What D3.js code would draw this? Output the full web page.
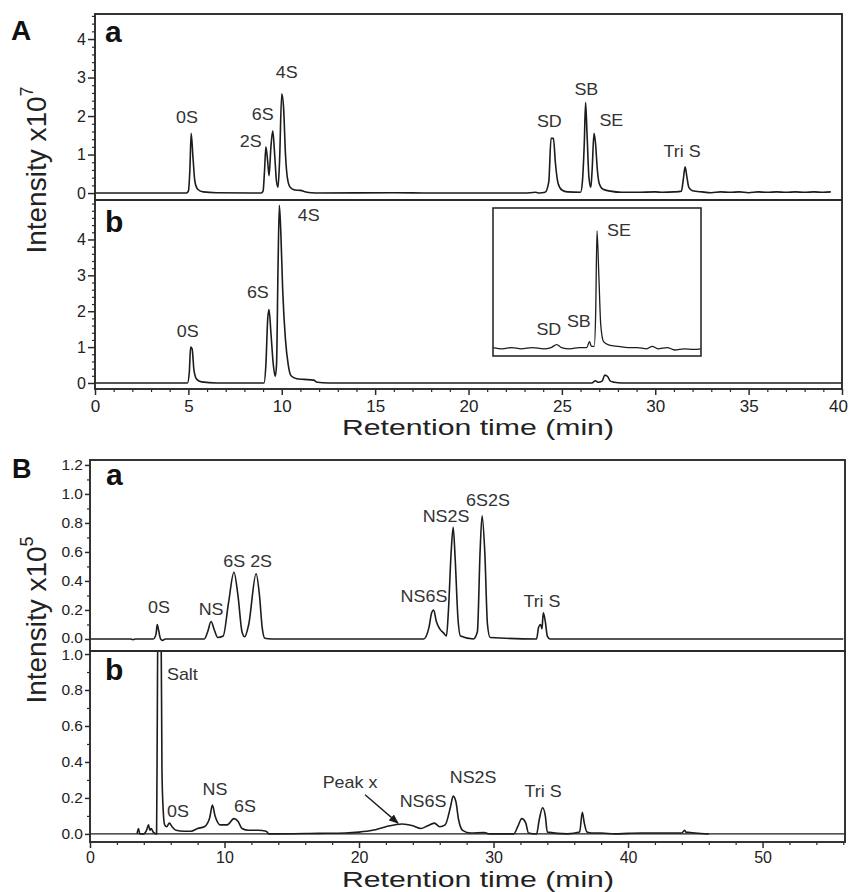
<!DOCTYPE html>
<html><head><meta charset="utf-8">
<script src="https://cdn.jsdelivr.net/npm/d3@7"></script>
<style>body{margin:0;background:#fff} text{font-family:"Liberation Sans",Arial,sans-serif}</style>
</head><body><svg id="c" width="850" height="892"></svg>
<script>
// ---------- DATA ----------
// Panel A, trace a : [retention time (min), intensity x10^7]
const traceAa = [[0,0],[4.9,0],[5.0,0.05],[5.08,0.6],[5.15,1.55],[5.25,0.9],[5.35,0.3],[5.5,0.1],[5.8,0.03],[6.5,0.01],[8.9,0],
 [9.0,0.05],[9.08,0.6],[9.15,1.2],[9.25,0.8],[9.32,0.45],[9.42,1.2],[9.52,1.62],[9.62,1.0],[9.72,0.3],[9.8,0.15],[9.88,0.8],
 [10.0,2.58],[10.1,2.2],[10.2,1.0],[10.3,0.4],[10.45,0.15],[10.7,0.08],[11.0,0.07],[11.3,0.03],[11.6,0.01],[12,0],[16,0.01],[18,0],
 [23,0],[23.6,0.02],[23.8,0],[24.1,0.02],[24.3,0.3],[24.42,1.42],[24.55,1.42],[24.65,0.8],[24.8,0.25],[25.0,0.08],[25.3,0.03],[26.0,0.02],
 [26.1,0.3],[26.2,1.3],[26.27,2.35],[26.35,1.5],[26.45,0.4],[26.55,0.15],[26.62,0.6],[26.72,1.55],[26.8,1.3],[26.9,0.6],[27.0,0.25],
 [27.2,0.1],[27.6,0.05],[28.2,0.02],[29,0.02],[30,0.03],[30.4,0.02],[31.0,0.03],[31.4,0.05],[31.5,0.35],[31.6,0.68],[31.7,0.4],
 [31.8,0.15],[32.0,0.06],[32.5,0.03],[33.0,0.01],[33.5,0.03],[34.0,0.02],[34.5,0.03],[35.0,0.01],[35.5,0.03],[36.0,0.02],[36.5,0.03],
 [37.0,0.02],[37.5,0.03],[38.0,0.02],[38.5,0.03],[39.0,0.02],[39.4,0.03]];
// Panel A, trace b
const traceAb = [[0,0],[4.95,0],[5.05,0.3],[5.12,1.0],[5.2,0.95],[5.3,0.35],[5.45,0.1],[5.7,0.03],[6.5,0],[9.05,0],[9.15,0.5],
 [9.25,1.8],[9.32,2.05],[9.42,1.4],[9.55,0.5],[9.65,0.18],[9.72,0.5],[9.8,3.2],[9.87,4.95],[9.95,4.2],[10.05,2.6],[10.2,1.2],[10.35,0.5],
 [10.5,0.2],[10.8,0.12],[11.2,0.1],[11.7,0.08],[11.9,0.02],[12.5,0],[26.6,0],[26.8,0.06],[26.95,0.02],[27.15,0.05],[27.3,0.22],
 [27.45,0.18],[27.6,0.05],[27.8,0.02],[28.2,0],[40,0]];
// Panel A, inset (relative intensity, SE = 1)
const traceInset = [[21.3,0.01],[21.8,0.0],[22.3,0.01],[22.8,0.0],[23.4,0.01],[24.0,0.0],[24.4,0.01],[24.7,0.035],[24.95,0.01],[25.4,0.0],
 [25.9,0.01],[26.3,0.01],[26.45,0.06],[26.55,0.02],[26.7,0.02],[26.78,0.3],[26.85,0.98],[26.95,0.6],[27.05,0.2],[27.2,0.06],[27.5,0.03],
 [28.0,0.02],[28.5,0.01],[29.0,0.01],[29.5,0.0],[29.8,0.02],[30.1,0.0],[30.6,0.01],[31.0,-0.01],[31.5,0.0],[32.0,-0.005],[32.4,0.0]];
// Panel B, trace a : intensity x10^5
const traceBa = [[0,0],[3.0,0],[3.2,-0.005],[3.4,0],[4.7,0],[4.9,0.03],[5.0,0.1],[5.1,0.06],[5.25,0.0],[5.4,-0.01],[5.6,0],[8.5,0],
 [8.75,0.05],[9.0,0.12],[9.25,0.06],[9.5,0.01],[9.9,0.02],[10.3,0.25],[10.7,0.46],[11.0,0.3],[11.3,0.05],[11.5,0.015],[11.8,0.1],
 [12.35,0.45],[12.6,0.3],[12.8,0.08],[13.0,0.005],[13.5,0],[24.8,0],[25.2,0.08],[25.4,0.18],[25.55,0.2],[25.75,0.12],[26.0,0.07],
 [26.3,0.04],[26.5,0.02],[26.65,0.2],[26.85,0.6],[27.0,0.77],[27.15,0.55],[27.35,0.15],[27.55,0.02],[28.5,0],[28.8,0.05],[29.0,0.6],
 [29.15,0.85],[29.35,0.6],[29.55,0.1],[29.75,0.01],[33.2,0],[33.35,0.08],[33.5,0.1],[33.6,0.07],[33.7,0.18],[33.85,0.12],[34.0,0.02],
 [34.2,0],[56,0]];
// Panel B, trace b
const traceBb = [[3.5,0.0],[3.6,0.03],[3.7,0.0],[4.0,0.0],[4.2,0.02],[4.35,0.05],[4.45,0.02],[4.55,0.03],[4.7,0.01],[4.95,0.0],[5.0,0.6],
 [5.05,1.2],[5.28,1.2],[5.35,0.35],[5.45,0.12],[5.55,0.05],[5.7,0.04],[5.9,0.06],[6.1,0.04],[6.4,0.02],[7.0,0.015],[7.5,0.015],[8.0,0.03],
 [8.5,0.04],[8.9,0.09],[9.1,0.16],[9.3,0.1],[9.7,0.05],[10.2,0.05],[10.7,0.085],[11.0,0.07],[11.3,0.03],[11.8,0.02],[12.5,0.02],
 [13.1,0.015],[13.3,0.0],[17,0.003],[19,0.005],[20,0.01],[21,0.02],[22,0.04],[23.2,0.055],[24,0.045],[24.6,0.03],[25.1,0.045],
 [25.6,0.06],[26.0,0.04],[26.4,0.05],[26.8,0.15],[27.0,0.21],[27.2,0.18],[27.4,0.08],[27.7,0.02],[28.3,0.005],[29.3,0.008],[29.7,0.0],
 [31.5,0.0],[31.8,0.04],[32.1,0.085],[32.4,0.06],[32.6,0.005],[33.2,0.0],[33.4,0.08],[33.65,0.145],[33.85,0.1],[34.0,0.01],[35.5,0.0],
 [36.4,0.01],[36.6,0.12],[36.75,0.06],[36.95,0.01],[37.3,0.005],[38,0.005],[39,0.0],[40,0.003],[41,0.005],[42,0.005],[43,0.005],
 [44,0.005],[44.2,0.02],[44.3,0.01],[44.6,0.008],[45,0.005],[46,0.0]];

// Peak labels: [text, time, intensity]
const labelsAa = [["0S",4.92,1.82],["2S",8.34,1.19],["6S",8.98,1.9],["4S",10.27,2.99],["SD",24.33,1.71],["SB",26.31,2.55],["SE",27.65,1.74],["Tri S",31.44,0.94]];
const labelsAb = [["0S",4.97,1.29],["6S",8.72,2.38],["4S",11.44,4.51]];
const labelsInset = [["SD",24.28,0.116],["SB",25.88,0.18],["SE",28.02,0.94]];
const labelsBa = [["0S",5.13,0.18],["NS",9.0,0.166],["6S",10.72,0.497],["2S",12.72,0.497],["NS6S",24.83,0.255],["NS2S",26.47,0.807],["6S2S",29.59,0.917],["Tri S",33.6,0.22]];
const labelsBb = [["0S",6.54,0.095],["NS",9.29,0.218],["6S",11.52,0.123],["Peak x",19.33,0.257],["NS6S",24.76,0.151],["NS2S",28.48,0.285],["Tri S",33.68,0.207]];
const saltLabel = ["Salt",5.72,0.855];
const peakXArrow = [[20.45,0.218],[22.9,0.06]];

// Tick values
const ticksAx = [0,5,10,15,20,25,30,35,40];
const ticksAy = [0,1,2,3,4];
const ticksBx = [0,10,20,30,40,50];
const ticksBaY = [0,0.2,0.4,0.6,0.8,1.0,1.2];
const ticksBbY = [0,0.2,0.4,0.6,0.8,1.0];

// ---------- DRAWING ----------
const svg = d3.select("#c");
const INK = "#1c1c1c";
const defs = svg.append("defs");
defs.append("marker").attr("id","arr").attr("viewBox","0 0 10 10").attr("refX",9).attr("refY",5)
  .attr("markerWidth",7).attr("markerHeight",7).attr("orient","auto")
  .append("path").attr("d","M0,1 L10,5 L0,9 Z").attr("fill",INK);

let clipId = 0;
function panel(box, xd, yd, bg) {
  const x = d3.scaleLinear().domain(xd).range([box.x0, box.x1]);
  const y = d3.scaleLinear().domain(yd).range([box.y1, box.y0]);
  const id = "clip" + (clipId++);
  defs.append("clipPath").attr("id", id).append("rect")
    .attr("x", box.x0).attr("y", box.y0).attr("width", box.x1 - box.x0).attr("height", box.y1 - box.y0);
  const g = svg.append("g");
  if (bg) g.append("rect").attr("x", box.x0).attr("y", box.y0).attr("width", box.x1 - box.x0)
    .attr("height", box.y1 - box.y0).attr("fill", "#fff");
  const plot = g.append("g").attr("clip-path", `url(#${id})`);
  return {x, y, g, plot, box};
}
function frame(p, w) {
  p.g.append("rect").attr("x", p.box.x0).attr("y", p.box.y0).attr("width", p.box.x1 - p.box.x0)
    .attr("height", p.box.y1 - p.box.y0).attr("fill", "none").attr("stroke", "#2a2a2a").attr("stroke-width", w || 1.9);
}
function trace(p, data, w) {
  const line = d3.line().x(d => p.x(d[0])).y(d => p.y(d[1])).curve(d3.curveMonotoneX);
  p.plot.append("path").datum(data).attr("d", line).attr("fill", "none").attr("stroke", INK)
    .attr("stroke-width", w || 1.6).attr("stroke-linejoin", "round");
}
function labels(p, arr, size) {
  arr.forEach(([t, xv, yv]) => {
    p.g.append("text").attr("transform", `translate(${p.x(xv)},${p.y(yv)}) scale(1.12,1)`)
      .attr("text-anchor", "middle").attr("font-size", size || 16).attr("fill", "#333").text(t);
  });
}
function yAxis(p, major, minor, fmt, size, tlen, pad) {
  const ax = p.g.append("g").attr("transform", `translate(${p.box.x0},0)`)
    .call(d3.axisLeft(p.y).tickValues(major).tickFormat(fmt).tickSize(tlen).tickPadding(pad));
  ax.select(".domain").remove();
  ax.selectAll("line").attr("stroke", "#2a2a2a").attr("stroke-width", 1.5);
  ax.selectAll("text").attr("font-size", size).attr("fill", "#222").attr("font-family", '"Liberation Sans",Arial,sans-serif');
  const mn = p.g.append("g").attr("transform", `translate(${p.box.x0},0)`)
    .call(d3.axisLeft(p.y).tickValues(minor).tickFormat("").tickSize(3));
  mn.select(".domain").remove();
  mn.selectAll("line").attr("stroke", "#2a2a2a").attr("stroke-width", 1.2);
  return ax;
}
function xAxis(p, major, minor, size, pad) {
  const ax = p.g.append("g").attr("transform", `translate(0,${p.box.y1})`)
    .call(d3.axisBottom(p.x).tickValues(major).tickFormat(d3.format("d")).tickSize(6).tickPadding(pad));
  ax.select(".domain").remove();
  ax.selectAll("line").attr("stroke", "#2a2a2a").attr("stroke-width", 1.5);
  ax.selectAll("text").attr("font-size", size).attr("fill", "#222").attr("font-family", '"Liberation Sans",Arial,sans-serif');
  const mn = p.g.append("g").attr("transform", `translate(0,${p.box.y1})`)
    .call(d3.axisBottom(p.x).tickValues(minor).tickFormat("").tickSize(3));
  mn.select(".domain").remove();
  mn.selectAll("line").attr("stroke", "#2a2a2a").attr("stroke-width", 1.2);
  return ax;
}
function notMajor(arr, major) { return arr.filter(v => !major.some(m => Math.abs(m - v) < 1e-6)); }
function bold(txt, x, y, size) {
  svg.append("text").attr("x", x).attr("y", y).attr("font-size", size).attr("font-weight", "bold").attr("fill", "#111").text(txt);
}

// Panel A
const Aa = panel({x0:95, x1:842, y0:14, y1:200}, [0, 40], [-0.18, 4.65]);
const Ab = panel({x0:95, x1:842, y0:200, y1:389}, [0, 40], [-0.168, 5.1]);
trace(Aa, traceAa); trace(Ab, traceAb);
yAxis(Aa, ticksAy, notMajor(d3.range(0, 4.61, 0.2), ticksAy), d3.format("d"), 16, 7, 2);
yAxis(Ab, ticksAy, notMajor(d3.range(0, 5.01, 0.2), ticksAy), d3.format("d"), 16, 7, 2);
const axA = xAxis(Ab, ticksAx, notMajor(d3.range(0, 40.1, 1), ticksAx), 17, 5);
axA.selectAll(".tick text").filter(d => d === 40).attr("dx", -4);
frame(Aa); frame(Ab);
labels(Aa, labelsAa); labels(Ab, labelsAb);
// inset
const Ai = panel({x0:493, x1:701, y0:208, y1:356}, [21.3, 32.4], [-0.06, 1.17], true);
trace(Ai, traceInset, 1.3); frame(Ai, 1.6); labels(Ai, labelsInset);

// Panel B
const Ba = panel({x0:90, x1:845, y0:460, y1:651}, [0, 56.13], [-0.083, 1.234]);
const Bb = panel({x0:90, x1:845, y0:651, y1:842}, [0, 56.13], [-0.045, 1.0168]);
trace(Ba, traceBa);
Bb.plot.append("line").attr("x1", 90).attr("x2", 845).attr("y1", Bb.y(0)).attr("y2", Bb.y(0)).attr("stroke", INK).attr("stroke-width", 1.4);
trace(Bb, traceBb);
const axBa = yAxis(Ba, ticksBaY, notMajor(d3.range(0, 1.21, 0.1), ticksBaY), d3.format(".1f"), 15.5, 5, 2);
const axBb = yAxis(Bb, ticksBbY, notMajor(d3.range(0, 1.01, 0.1), ticksBbY), d3.format(".1f"), 15.5, 5, 2);
axBa.selectAll(".tick text").filter(d => d === 0).attr("y", -1);
axBb.selectAll(".tick text").filter(d => d === 1).attr("y", 1);
xAxis(Bb, ticksBx, notMajor(d3.range(0, 56.1, 2), ticksBx), 16, 4);
frame(Ba); frame(Bb);
labels(Ba, labelsBa); labels(Bb, labelsBb);
Bb.g.append("text").attr("transform", `translate(${Bb.x(saltLabel[1])},${Bb.y(saltLabel[2])}) scale(1.12,1)`)
  .attr("font-size", 16).attr("fill", "#333").text(saltLabel[0]);
Bb.g.append("line").attr("x1", Bb.x(peakXArrow[0][0])).attr("y1", Bb.y(peakXArrow[0][1]))
  .attr("x2", Bb.x(peakXArrow[1][0])).attr("y2", Bb.y(peakXArrow[1][1]))
  .attr("stroke", INK).attr("stroke-width", 1.4).attr("marker-end", "url(#arr)");

// Panel letters
bold("A", 11, 40, 28); bold("a", 105, 42, 30); bold("b", 105, 232, 30);
bold("B", 12, 478, 27); bold("a", 106, 485, 30); bold("b", 105, 680, 30);

// Axis titles
function xTitle(cx, yb) {
  svg.append("text").attr("x", cx).attr("y", yb).attr("text-anchor", "middle").attr("font-size", 22)
    .attr("textLength", 272).attr("lengthAdjust", "spacingAndGlyphs").attr("fill", "#222").text("Retention time (min)");
}
xTitle(478, 435); xTitle(478, 887);
function yTitle(cy, exp) {
  const t = svg.append("text").attr("transform", `translate(46,${cy}) rotate(-90)`).attr("text-anchor", "middle")
    .attr("font-size", 28).attr("fill", "#222");
  t.append("tspan").text("Intensity x10");
  t.append("tspan").attr("font-size", 18).attr("dy", -13).text(exp);
}
yTitle(170, "7"); yTitle(620, "5");
</script></body></html>
